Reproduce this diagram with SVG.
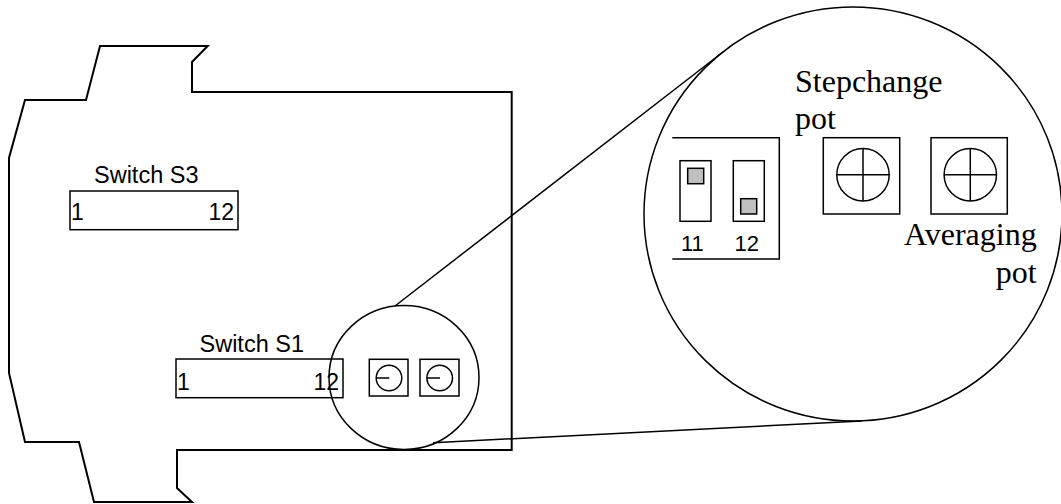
<svg xmlns="http://www.w3.org/2000/svg" width="1061" height="504" viewBox="0 0 1061 504">
<style>
.ln{fill:none;stroke:#000;stroke-width:2}
.th{fill:none;stroke:#000;stroke-width:1.5}
.bx{fill:#fff;stroke:#000;stroke-width:1.5}
.gr{fill:#c0c0c0;stroke:#000;stroke-width:1.5}
.sans{font-family:"Liberation Sans",Arial,sans-serif;fill:#000}
.serif{font-family:"Liberation Serif","Times New Roman",serif;font-size:32px;fill:#000}
</style>
<rect width="1061" height="504" fill="#fff"/>
<g id="board">
<path class="ln" d="M100,46 L207.7,46 L192,62 L192,92 L511.7,92 L511.7,450 L177,450 L177,488 L192,502 L94,502 L79,442 L25,442 L9,373 L9,158 L25,100 L86,100 Z"/>
</g>
<g id="switch-s3">
<rect class="bx" x="70" y="191" width="168" height="38.7"/>
<text class="sans" x="94" y="182.7" font-size="23.5">Switch S3</text>
<text class="sans" x="71" y="220" font-size="23">1</text>
<text class="sans" x="234" y="220" font-size="23" text-anchor="end">12</text>
</g>
<g id="switch-s1">
<rect class="bx" x="176" y="359" width="167" height="38.7"/>
<text class="sans" x="199.5" y="351.7" font-size="23.5">Switch S1</text>
<text class="sans" x="177" y="390" font-size="23">1</text>
<text class="sans" x="339" y="390" font-size="23" text-anchor="end">12</text>
</g>
<g id="small-circle">
<ellipse class="th" cx="404" cy="377.5" rx="75" ry="72"/>
</g>
<g id="small-pots">
<rect class="bx" x="369.3" y="359.3" width="38.7" height="36.7"/>
<circle class="th" cx="389" cy="378" r="12.8"/>
<line class="th" x1="376.2" y1="378" x2="389.3" y2="378"/>
<rect class="bx" x="420" y="359.3" width="39" height="36.7"/>
<circle class="th" cx="439.7" cy="378" r="12.8"/>
<line class="th" x1="426.9" y1="378" x2="440" y2="378"/>
</g>
<g id="connectors">
<line class="th" x1="395" y1="306" x2="723" y2="52"/>
<line class="th" x1="433" y1="442.7" x2="861.7" y2="421"/>
</g>
<g id="big-circle">
<ellipse class="th" cx="853" cy="214" rx="209" ry="207"/>
</g>
<g id="zoom-switch">
<path class="th" d="M672.3,137.7 L779.3,137.7 L779.3,259 L672.3,259"/>
<rect class="bx" x="680" y="160.7" width="31" height="60.6"/>
<rect class="gr" x="687.7" y="168.3" width="16" height="15.4"/>
<rect class="bx" x="733.3" y="160.7" width="31" height="60.6"/>
<rect class="gr" x="740.7" y="198.7" width="16" height="15.3"/>
<text class="sans" x="681" y="251.3" font-size="22">11</text>
<text class="sans" x="734.5" y="251.3" font-size="22">12</text>
</g>
<g id="stepchange-pot">
<rect class="bx" x="823.3" y="137.7" width="76.4" height="76.3"/>
<circle class="th" cx="863" cy="174.7" r="26.2"/>
<line class="th" x1="836.8" y1="174.7" x2="889.2" y2="174.7"/>
<line class="th" x1="863" y1="148.5" x2="863" y2="200.9"/>
<text class="serif" x="795" y="91.7">Stepchange</text>
<text class="serif" x="795" y="129.3">pot</text>
</g>
<g id="averaging-pot">
<rect class="bx" x="931" y="137.7" width="76.3" height="76.3"/>
<circle class="th" cx="970.3" cy="174.7" r="26.2"/>
<line class="th" x1="944.1" y1="174.7" x2="996.5" y2="174.7"/>
<line class="th" x1="970.3" y1="148.5" x2="970.3" y2="200.9"/>
<text class="serif" x="1036.7" y="245" text-anchor="end">Averaging</text>
<text class="serif" x="1036.7" y="283.3" text-anchor="end">pot</text>
</g>
</svg>
